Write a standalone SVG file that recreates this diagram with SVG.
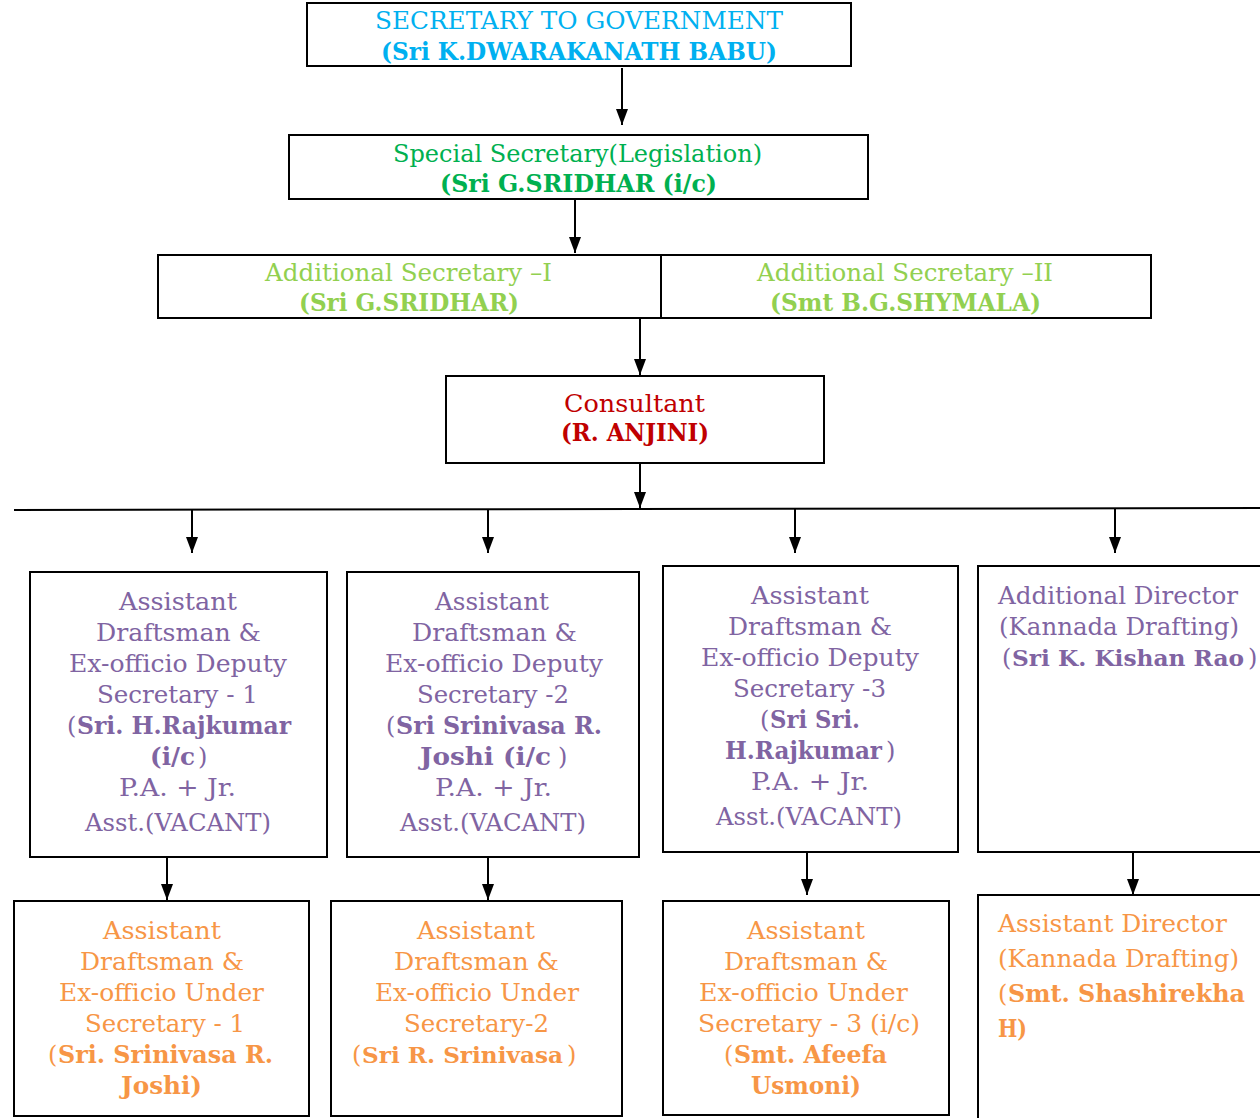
<svg xmlns="http://www.w3.org/2000/svg" width="1260" height="1118" viewBox="0 0 1260 1118">
<style>
text{font-family:"DejaVu Serif","Liberation Serif",serif;font-size:24px}
.b{font-weight:bold}
.s{font-size:22px}
.box{fill:#fff;stroke:#000;stroke-width:2}
.c1{fill:#00B0F0}.c2{fill:#00B050}.c3{fill:#92D050}.c4{fill:#C00000}.c5{fill:#8064A2}.c6{fill:#F79646}
.ln{stroke:#000;stroke-width:2;fill:none}
</style>
<defs>
<marker id="ah" markerUnits="userSpaceOnUse" markerWidth="16" markerHeight="12" refX="16" refY="6" orient="auto" viewBox="0 0 16 12">
<path d="M0,0 L16,6 L0,12 z" fill="#000"/>
</marker>
</defs>
<rect width="1260" height="1118" fill="#fff"/>

<g id="connectors">
<line class="ln" x1="622" y1="68" x2="622" y2="125" marker-end="url(#ah)"/>
<line class="ln" x1="575" y1="199" x2="575" y2="253" marker-end="url(#ah)"/>
<line class="ln" x1="640" y1="319" x2="640" y2="375" marker-end="url(#ah)"/>
<line class="ln" x1="640" y1="464" x2="640" y2="508" marker-end="url(#ah)"/>
<line class="ln" x1="14" y1="510" x2="1262" y2="508"/>
<line class="ln" x1="192" y1="510" x2="192" y2="553" marker-end="url(#ah)"/>
<line class="ln" x1="488" y1="510" x2="488" y2="553" marker-end="url(#ah)"/>
<line class="ln" x1="795" y1="509" x2="795" y2="553" marker-end="url(#ah)"/>
<line class="ln" x1="1115" y1="508" x2="1115" y2="553" marker-end="url(#ah)"/>
<line class="ln" x1="167" y1="858" x2="167" y2="900" marker-end="url(#ah)"/>
<line class="ln" x1="488" y1="858" x2="488" y2="900" marker-end="url(#ah)"/>
<line class="ln" x1="807" y1="853" x2="807" y2="895" marker-end="url(#ah)"/>
<line class="ln" x1="1133" y1="853" x2="1133" y2="895" marker-end="url(#ah)"/>
</g>

<g id="secretary">
<rect class="box" x="307" y="3" width="544" height="63"/>
<text class="c1" x="375" y="29" textLength="408" lengthAdjust="spacingAndGlyphs">SECRETARY TO GOVERNMENT</text>
<text class="c1 b" x="381" y="60" textLength="396" lengthAdjust="spacingAndGlyphs">(Sri K.DWARAKANATH BABU)</text>
</g>

<g id="special-secretary">
<rect class="box" x="289" y="135" width="579" height="64"/>
<text class="c2" x="393" y="162" textLength="369" lengthAdjust="spacingAndGlyphs">Special Secretary(Legislation)</text>
<text class="c2 b" x="440" y="192" textLength="277" lengthAdjust="spacingAndGlyphs">(Sri G.SRIDHAR (i/c)</text>
</g>

<g id="additional-secretary-1">
<rect class="box" x="158" y="255" width="503" height="63"/>
<text class="c3" x="265" y="281" textLength="287" lengthAdjust="spacingAndGlyphs">Additional Secretary –I</text>
<text class="c3 b" x="299" y="311" textLength="220" lengthAdjust="spacingAndGlyphs">(Sri G.SRIDHAR)</text>
</g>

<g id="additional-secretary-2">
<rect class="box" x="661" y="255" width="490" height="63"/>
<text class="c3" x="757" y="281" textLength="296" lengthAdjust="spacingAndGlyphs">Additional Secretary –II</text>
<text class="c3 b" x="770" y="311" textLength="271" lengthAdjust="spacingAndGlyphs">(Smt B.G.SHYMALA)</text>
</g>

<g id="consultant">
<rect class="box" x="446" y="376" width="378" height="87"/>
<text class="c4" x="564" y="412" textLength="141" lengthAdjust="spacingAndGlyphs">Consultant</text>
<text class="c4 b" x="561" y="441" textLength="148" lengthAdjust="spacingAndGlyphs">(R. ANJINI)</text>
</g>

<g id="deputy-secretary-1">
<rect class="box" x="30" y="572" width="297" height="285"/>
<text class="c5" x="119" y="610" textLength="118" lengthAdjust="spacingAndGlyphs">Assistant</text>
<text class="c5" x="96" y="641" textLength="165" lengthAdjust="spacingAndGlyphs">Draftsman &amp;</text>
<text class="c5" x="69" y="672" textLength="218" lengthAdjust="spacingAndGlyphs">Ex-officio Deputy</text>
<text class="c5" x="97" y="703" textLength="161" lengthAdjust="spacingAndGlyphs">Secretary - 1</text>
<text class="c5" x="67" y="734">(</text>
<text class="c5 b" x="77" y="734" textLength="214" lengthAdjust="spacingAndGlyphs">Sri. H.Rajkumar</text>
<text class="c5 b" x="150" y="765" textLength="45" lengthAdjust="spacingAndGlyphs">(i/c</text>
<text class="c5" x="198" y="765">)</text>
<text class="c5" x="119" y="796" textLength="117" lengthAdjust="spacingAndGlyphs">P.A. + Jr.</text>
<text class="c5" x="85" y="831" textLength="186" lengthAdjust="spacingAndGlyphs">Asst.(VACANT)</text>
</g>

<g id="deputy-secretary-2">
<rect class="box" x="347" y="572" width="292" height="285"/>
<text class="c5" x="435" y="610" textLength="114" lengthAdjust="spacingAndGlyphs">Assistant</text>
<text class="c5" x="412" y="641" textLength="165" lengthAdjust="spacingAndGlyphs">Draftsman &amp;</text>
<text class="c5" x="385" y="672" textLength="218" lengthAdjust="spacingAndGlyphs">Ex-officio Deputy</text>
<text class="c5" x="417" y="703" textLength="152" lengthAdjust="spacingAndGlyphs">Secretary -2</text>
<text class="c5" x="386" y="734">(</text>
<text class="c5 b" x="396" y="734" textLength="206" lengthAdjust="spacingAndGlyphs">Sri Srinivasa R.</text>
<text class="c5 b" x="420" y="765" textLength="131" lengthAdjust="spacingAndGlyphs">Joshi (i/c</text>
<text class="c5" x="558" y="765">)</text>
<text class="c5" x="435" y="796" textLength="117" lengthAdjust="spacingAndGlyphs">P.A. + Jr.</text>
<text class="c5" x="400" y="831" textLength="186" lengthAdjust="spacingAndGlyphs">Asst.(VACANT)</text>
</g>

<g id="deputy-secretary-3">
<rect class="box" x="663" y="566" width="295" height="286"/>
<text class="c5" x="751" y="604" textLength="118" lengthAdjust="spacingAndGlyphs">Assistant</text>
<text class="c5" x="728" y="635" textLength="164" lengthAdjust="spacingAndGlyphs">Draftsman &amp;</text>
<text class="c5" x="701" y="666" textLength="218" lengthAdjust="spacingAndGlyphs">Ex-officio Deputy</text>
<text class="c5" x="733" y="697" textLength="153" lengthAdjust="spacingAndGlyphs">Secretary -3</text>
<text class="c5" x="760" y="728">(</text>
<text class="c5 b" x="770" y="728" textLength="90" lengthAdjust="spacingAndGlyphs">Sri Sri.</text>
<text class="c5 b" x="725" y="759" textLength="157" lengthAdjust="spacingAndGlyphs">H.Rajkumar</text>
<text class="c5" x="886" y="759">)</text>
<text class="c5" x="751" y="790" textLength="118" lengthAdjust="spacingAndGlyphs">P.A. + Jr.</text>
<text class="c5" x="716" y="825" textLength="186" lengthAdjust="spacingAndGlyphs">Asst.(VACANT)</text>
</g>

<g id="additional-director">
<rect class="box" x="978" y="566" width="290" height="286"/>
<text class="c5" x="998" y="604" textLength="240" lengthAdjust="spacingAndGlyphs">Additional Director</text>
<text class="c5" x="999" y="635" textLength="240" lengthAdjust="spacingAndGlyphs">(Kannada Drafting)</text>
<text class="c5" x="1002" y="666">(</text>
<text class="c5 b s" x="1012" y="666" textLength="232" lengthAdjust="spacingAndGlyphs">Sri K. Kishan Rao</text>
<text class="c5" x="1248" y="666">)</text>
</g>

<g id="under-secretary-1">
<rect class="box" x="14" y="901" width="295" height="215"/>
<text class="c6" x="103" y="939" textLength="118" lengthAdjust="spacingAndGlyphs">Assistant</text>
<text class="c6" x="80" y="970" textLength="164" lengthAdjust="spacingAndGlyphs">Draftsman &amp;</text>
<text class="c6" x="59" y="1001" textLength="205" lengthAdjust="spacingAndGlyphs">Ex-officio Under</text>
<text class="c6" x="85" y="1032" textLength="160" lengthAdjust="spacingAndGlyphs">Secretary - 1</text>
<text class="c6" x="48" y="1063">(</text>
<text class="c6 b" x="58" y="1063" textLength="215" lengthAdjust="spacingAndGlyphs">Sri. Srinivasa R.</text>
<text class="c6 b" x="121" y="1094" textLength="81" lengthAdjust="spacingAndGlyphs">Joshi)</text>
</g>

<g id="under-secretary-2">
<rect class="box" x="331" y="901" width="291" height="215"/>
<text class="c6" x="417" y="939" textLength="118" lengthAdjust="spacingAndGlyphs">Assistant</text>
<text class="c6" x="394" y="970" textLength="165" lengthAdjust="spacingAndGlyphs">Draftsman &amp;</text>
<text class="c6" x="375" y="1001" textLength="204" lengthAdjust="spacingAndGlyphs">Ex-officio Under</text>
<text class="c6" x="404" y="1032" textLength="145" lengthAdjust="spacingAndGlyphs">Secretary-2</text>
<text class="c6" x="352" y="1063">(</text>
<text class="c6 b s" x="362" y="1063" textLength="201" lengthAdjust="spacingAndGlyphs">Sri R. Srinivasa</text>
<text class="c6" x="567" y="1063">)</text>
</g>

<g id="under-secretary-3">
<rect class="box" x="663" y="901" width="286" height="214"/>
<text class="c6" x="747" y="939" textLength="118" lengthAdjust="spacingAndGlyphs">Assistant</text>
<text class="c6" x="724" y="970" textLength="164" lengthAdjust="spacingAndGlyphs">Draftsman &amp;</text>
<text class="c6" x="699" y="1001" textLength="209" lengthAdjust="spacingAndGlyphs">Ex-officio Under</text>
<text class="c6" x="698" y="1032" textLength="222" lengthAdjust="spacingAndGlyphs">Secretary - 3 (i/c)</text>
<text class="c6" x="724" y="1063">(</text>
<text class="c6 b" x="734" y="1063" textLength="153" lengthAdjust="spacingAndGlyphs">Smt. Afeefa</text>
<text class="c6 b" x="751" y="1094" textLength="110" lengthAdjust="spacingAndGlyphs">Usmoni)</text>
</g>

<g id="assistant-director">
<rect class="box" x="978" y="895" width="290" height="230"/>
<text class="c6" x="998" y="932" textLength="229" lengthAdjust="spacingAndGlyphs">Assistant Director</text>
<text class="c6" x="998" y="967" textLength="241" lengthAdjust="spacingAndGlyphs">(Kannada Drafting)</text>
<text class="c6" x="998" y="1002">(</text>
<text class="c6 b" x="1008" y="1002" textLength="237" lengthAdjust="spacingAndGlyphs">Smt. Shashirekha</text>
<text class="c6 b" x="998" y="1037" textLength="29" lengthAdjust="spacingAndGlyphs">H)</text>
</g>
</svg>
